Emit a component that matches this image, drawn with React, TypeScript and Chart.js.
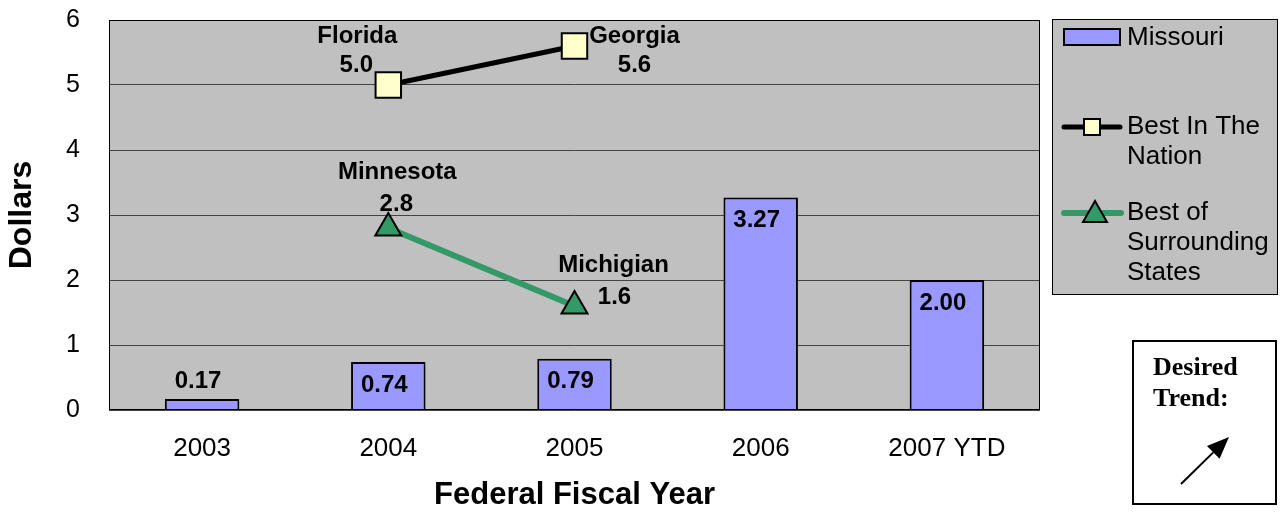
import React, { useEffect, useRef } from "react";
import { Chart, registerables } from "chart.js";

Chart.register(...registerables);

const categories = ["2003", "2004", "2005", "2006", "2007 YTD"];
const missouriValues = [0.17, 0.74, 0.79, 3.27, 2.0];
const bestNationValues = [null, 5.0, 5.6, null, null];
const bestNationStates = [null, "Florida", "Georgia", null, null];
const bestSurroundingValues = [null, 2.8, 1.6, null, null];
const bestSurroundingStates = [null, "Minnesota", "Michigian", null, null];
const yTickValues = [0, 1, 2, 3, 4, 5, 6];
const seriesNames = ["Missouri", "Best In The Nation", "Best of Surrounding States"];
const legendLines = [["Missouri"], ["Best In The", "Nation"], ["Best of", "Surrounding", "States"]];
const trendLines = ["Desired", "Trend:"];
const xTitle = "Federal Fiscal Year";
const yTitle = "Dollars";

const FONT = '"Liberation Sans", Arial, Helvetica, sans-serif';
const SERIF = '"Liberation Serif", "Times New Roman", serif';

// label placement offsets in pixels relative to each point: [nameDx, nameDy, valueDx, valueDy]
const nationLabelOffsets: (number[] | null)[] = [null, [-31, -49, -32, -20], [60, -10, 60, 19], null, null];
const surroundLabelOffsets: (number[] | null)[] = [null, [9, -56, 8, -24], [39, -41, 40, -9], null, null];

const decorPlugin = {
  id: "decor",
  beforeDraw(chart: any) {
    const { ctx, chartArea: a } = chart;
    ctx.save();
    ctx.fillStyle = "#c0c0c0";
    ctx.fillRect(a.left, a.top, a.right - a.left, a.bottom - a.top);
    ctx.restore();
  },
  afterDatasetsDraw(chart: any) {
    const { ctx, chartArea: a } = chart;
    ctx.save();
    ctx.strokeStyle = "#000";
    ctx.lineWidth = 1;
    ctx.strokeRect(a.left + 0.5, a.top + 0.5, a.right - a.left - 1, a.bottom - a.top - 1);

    ctx.fillStyle = "#000";
    ctx.font = `bold 24px ${FONT}`;
    ctx.textAlign = "center";
    ctx.textBaseline = "middle";
    const barMeta = chart.getDatasetMeta(0);
    barMeta.data.forEach((el: any, i: number) => {
      const v = missouriValues[i];
      const h = el.base - el.y;
      const ly = h > 30 ? el.y + 23 : el.y - 18;
      ctx.fillText(v.toFixed(2), el.x - 4, ly);
    });

    const drawLineLabels = (dsIndex: number, names: (string | null)[], values: (number | null)[], offs: (number[] | null)[]) => {
      const meta = chart.getDatasetMeta(dsIndex);
      meta.data.forEach((el: any, i: number) => {
        const v = values[i];
        const o = offs[i];
        if (v == null || !o) return;
        ctx.fillText(String(names[i]), el.x + o[0], el.y + o[1]);
        ctx.fillText(v.toFixed(1), el.x + o[2], el.y + o[3]);
      });
    };
    drawLineLabels(1, bestNationStates, bestNationValues, nationLabelOffsets);
    drawLineLabels(2, bestSurroundingStates, bestSurroundingValues, surroundLabelOffsets);
    ctx.restore();
  },
  afterDraw(chart: any) {
    const { ctx } = chart;
    ctx.save();
    ctx.fillStyle = "#c0c0c0";
    ctx.fillRect(1052, 19, 226, 275);
    ctx.strokeStyle = "#000";
    ctx.lineWidth = 1;
    ctx.strokeRect(1052.5, 19.5, 225, 275);

    ctx.fillStyle = "#9999ff";
    ctx.fillRect(1064, 29, 56, 16);
    ctx.lineWidth = 2;
    ctx.strokeRect(1064, 29, 56, 16);

    ctx.font = `26px ${FONT}`;
    ctx.fillStyle = "#000";
    ctx.textAlign = "left";
    ctx.textBaseline = "middle";
    const textX = 1127;
    legendLines[0].forEach((t, k) => ctx.fillText(t, textX, 38 + k * 30));

    ctx.strokeStyle = "#000";
    ctx.lineWidth = 5;
    ctx.lineCap = "round";
    ctx.beginPath();
    ctx.moveTo(1064, 127);
    ctx.lineTo(1120, 127);
    ctx.stroke();
    ctx.fillStyle = "#ffffcc";
    ctx.fillRect(1084, 119, 16, 16);
    ctx.lineWidth = 2;
    ctx.strokeRect(1084, 119, 16, 16);
    ctx.fillStyle = "#000";
    legendLines[1].forEach((t, k) => ctx.fillText(t, textX, 127 + k * 30));

    ctx.strokeStyle = "#339966";
    ctx.lineWidth = 6;
    ctx.beginPath();
    ctx.moveTo(1064, 213);
    ctx.lineTo(1121, 213);
    ctx.stroke();
    ctx.fillStyle = "#339966";
    ctx.strokeStyle = "#000";
    ctx.lineWidth = 2;
    ctx.beginPath();
    ctx.moveTo(1095, 201);
    ctx.lineTo(1107, 222);
    ctx.lineTo(1083, 222);
    ctx.closePath();
    ctx.fill();
    ctx.stroke();
    ctx.fillStyle = "#000";
    legendLines[2].forEach((t, k) => ctx.fillText(t, textX, 213 + k * 30));

    ctx.fillStyle = "#fff";
    ctx.fillRect(1133, 341, 143, 163);
    ctx.strokeStyle = "#000";
    ctx.lineWidth = 2;
    ctx.strokeRect(1133, 341, 143, 163);
    ctx.fillStyle = "#000";
    ctx.font = `bold 26px ${SERIF}`;
    trendLines.forEach((t, k) => ctx.fillText(t, 1153, 368 + k * 31));

    const sx = 1181, sy = 484, tx = 1229, ty = 437;
    const dx = tx - sx, dy = ty - sy;
    const len = Math.hypot(dx, dy);
    const ux = dx / len, uy = dy / len;
    const hl = 22, hw = 9;
    const bx = tx - ux * hl, by = ty - uy * hl;
    ctx.lineWidth = 2;
    ctx.lineCap = "butt";
    ctx.beginPath();
    ctx.moveTo(sx, sy);
    ctx.lineTo(bx, by);
    ctx.stroke();
    ctx.beginPath();
    ctx.moveTo(tx, ty);
    ctx.lineTo(bx - uy * hw, by + ux * hw);
    ctx.lineTo(bx + uy * hw, by - ux * hw);
    ctx.closePath();
    ctx.fill();
    ctx.restore();
  },
};

export default function App() {
  const canvasRef = useRef<HTMLCanvasElement | null>(null);

  useEffect(() => {
    const canvas = canvasRef.current;
    if (!canvas) return;
    const chart = new Chart(canvas, {
      type: "bar",
      data: {
        labels: categories,
        datasets: [
          {
            type: "bar",
            label: seriesNames[0],
            data: missouriValues,
            backgroundColor: "#9999ff",
            borderColor: "#000",
            borderWidth: 2,
            barPercentage: 0.4,
            categoryPercentage: 1,
            order: 2,
          } as any,
          {
            type: "line",
            label: seriesNames[1],
            data: bestNationValues,
            borderColor: "#000",
            borderWidth: 5,
            pointStyle: "rect",
            pointRadius: 18,
            pointBackgroundColor: "#ffffcc",
            pointBorderColor: "#000",
            pointBorderWidth: 2,
            spanGaps: false,
            order: 1,
          } as any,
          {
            type: "line",
            label: seriesNames[2],
            data: bestSurroundingValues,
            borderColor: "#339966",
            borderWidth: 6,
            pointStyle: "triangle",
            pointRadius: 15,
            pointBackgroundColor: "#339966",
            pointBorderColor: "#000",
            pointBorderWidth: 2,
            spanGaps: false,
            order: 0,
          } as any,
        ],
      },
      options: {
        responsive: false,
        animation: false,
        layout: { autoPadding: false, padding: { left: 0, right: 240, top: 20, bottom: 0 } },
        plugins: {
          legend: { display: false },
          tooltip: { enabled: false },
        },
        scales: {
          x: {
            grid: { display: false, drawTicks: false },
            border: { display: false },
            ticks: {
              font: { family: FONT, size: 26 },
              color: "#000",
              padding: 23,
              maxRotation: 0,
              autoSkip: false,
            },
            title: {
              display: true,
              text: xTitle,
              font: { family: FONT, size: 31, weight: "bold" },
              color: "#000",
              padding: { top: 0, bottom: 0 },
            },
            afterFit(scale: any) {
              scale.height = 104;
            },
          },
          y: {
            min: 0,
            max: 6,
            grid: { color: "#444", lineWidth: 1, drawTicks: true, tickLength: 26, tickColor: "rgba(0,0,0,0)" },
            border: { display: false },
            ticks: {
              font: { family: FONT, size: 25 },
              color: "#000",
              padding: 3,
            },
            afterBuildTicks(scale: any) {
              scale.ticks = yTickValues.map((v) => ({ value: v }));
            },
            title: {
              display: true,
              text: yTitle,
              font: { family: FONT, size: 32, weight: "bold" },
              color: "#000",
              padding: { top: 3, bottom: 0 },
            },
            afterFit(scale: any) {
              scale.width = 109;
            },
          },
        },
      } as any,
      plugins: [decorPlugin],
    });
    return () => chart.destroy();
  }, []);

  return (
    <div style={{ position: "fixed", left: 0, top: 0, width: 1280, height: 514, background: "#fff" }}>
      <canvas ref={canvasRef} width={1280} height={514} style={{ width: 1280, height: 514, display: "block" }} />
    </div>
  );
}
